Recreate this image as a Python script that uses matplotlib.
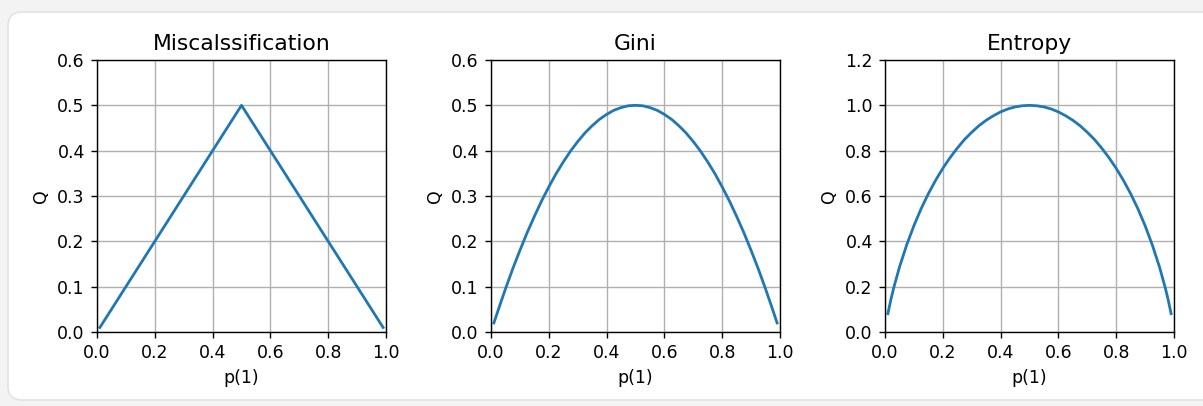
import numpy as np
import matplotlib
matplotlib.use("Agg")
import matplotlib.pyplot as plt
from matplotlib.patches import FancyBboxPatch

# --- data ---
p_line = [0.01, 0.5, 0.99]
q_miscl = [0.01, 0.5, 0.01]

p_curve = [0.01, 0.02, 0.03, 0.05, 0.075, 0.1, 0.125, 0.15, 0.175, 0.2, 0.225, 0.25,
           0.275, 0.3, 0.325, 0.35, 0.375, 0.4, 0.425, 0.45, 0.475, 0.5,
           0.525, 0.55, 0.575, 0.6, 0.625, 0.65, 0.675, 0.7, 0.725, 0.75,
           0.775, 0.8, 0.825, 0.85, 0.875, 0.9, 0.925, 0.95, 0.97, 0.98, 0.99]
q_gini = [0.02, 0.039, 0.058, 0.095, 0.139, 0.18, 0.219, 0.255, 0.289, 0.32, 0.349, 0.375,
          0.399, 0.42, 0.439, 0.455, 0.469, 0.48, 0.489, 0.495, 0.499, 0.5,
          0.499, 0.495, 0.489, 0.48, 0.469, 0.455, 0.439, 0.42, 0.399, 0.375,
          0.349, 0.32, 0.289, 0.255, 0.219, 0.18, 0.139, 0.095, 0.058, 0.039, 0.02]
q_entropy = [0.081, 0.141, 0.194, 0.286, 0.384, 0.469, 0.544, 0.61, 0.669, 0.722, 0.769, 0.811,
             0.849, 0.881, 0.91, 0.934, 0.954, 0.971, 0.984, 0.993, 0.998, 1.0,
             0.998, 0.993, 0.984, 0.971, 0.954, 0.934, 0.91, 0.881, 0.849, 0.811,
             0.769, 0.722, 0.669, 0.61, 0.544, 0.469, 0.384, 0.286, 0.194, 0.141, 0.081]

titles = ["Miscalssification", "Gini", "Entropy"]
ylims = [0.6, 0.6, 1.2]

W, H, DPI = 1203, 406, 125
fig = plt.figure(figsize=(W / DPI, H / DPI), dpi=DPI)
fig.patch.set_facecolor("#f3f3f3")

# white card behind the plots (sizes in pixels -> inches)
card = FancyBboxPatch((8 / DPI, 6 / DPI), 1300 / DPI, 388 / DPI,
                      boxstyle="round,pad=0,rounding_size=%f" % (14 / DPI),
                      transform=fig.dpi_scale_trans, facecolor="white",
                      edgecolor="#e4e4e4", linewidth=1.0, zorder=-10)
fig.patches.append(card)

lefts = [97, 491, 885]
width = 289
top, bottom = 60, 332

series = [(p_line, q_miscl), (p_curve, q_gini), (p_curve, q_entropy)]
for i in range(3):
    ax = fig.add_axes([lefts[i] / W, 1 - bottom / H, width / W, (bottom - top) / H])
    x, y = series[i]
    ax.plot(x, y, color="#1f77b4", linewidth=1.6)
    ax.set_xlim(0, 1)
    ax.set_ylim(0, ylims[i])
    ax.set_title(titles[i], fontsize=12.6)
    ax.set_xlabel("p(1)")
    ax.set_ylabel("Q")
    ax.grid(True)

fig.savefig("out.png", dpi=DPI, facecolor=fig.get_facecolor())
